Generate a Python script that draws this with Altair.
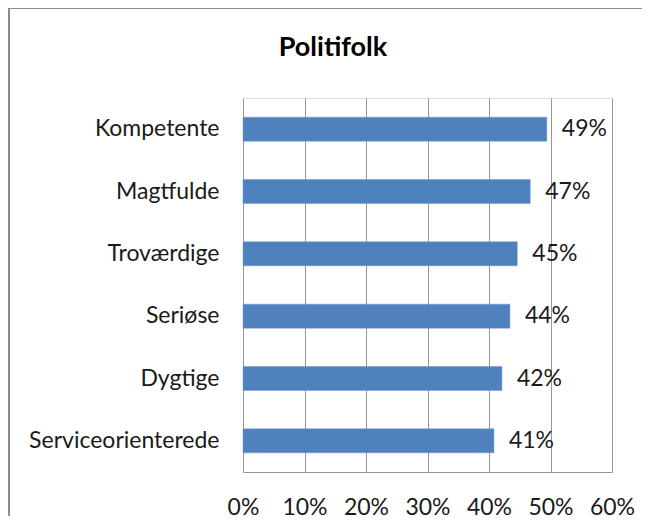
import altair as alt
import pandas as pd

categories = ["Kompetente", "Magtfulde", "Troværdige", "Seriøse", "Dygtige", "Serviceorienterede"]
values = [0.494, 0.467, 0.446, 0.434, 0.421, 0.408]
labels = ["49%", "47%", "45%", "44%", "42%", "41%"]
x_ticks = [0, 0.1, 0.2, 0.3, 0.4, 0.5, 0.6]
title_text = ["Politifolk"]

df = pd.DataFrame({"cat": categories, "val": values, "lab": labels})
title_df = pd.DataFrame({"t": title_text})

FONT = "Lato"
FS = 23

y_enc = alt.Y("cat:N", sort=categories, title=None,
              scale=alt.Scale(paddingInner=0.615, paddingOuter=0.3075),
              axis=alt.Axis(labelFont=FONT, labelFontSize=FS, labelColor="#1a1a1a",
                            labelPadding=24, labelLimit=400, ticks=False, domain=False,
                            grid=False))

x_enc = alt.X("val:Q", title=None,
              scale=alt.Scale(domain=[0, 0.6], nice=False),
              axis=alt.Axis(values=x_ticks, format=".0%", labelFont=FONT, labelFontSize=FS,
                            labelColor="#1a1a1a", labelPadding=24, ticks=False,
                            domainColor="#969696", gridColor="#969696", gridWidth=1,
                            labelFlush=False))

bars = alt.Chart(df).mark_bar(color="#4f81bd", stroke="#6f9bd1", strokeWidth=0.5).encode(
    x=x_enc, y=y_enc)

text = alt.Chart(df).mark_text(align="left", baseline="middle", dx=15, font=FONT,
                               fontSize=FS, color="#1a1a1a").encode(
    x="val:Q", y=alt.Y("cat:N", sort=categories), text="lab:N")

title = alt.Chart(title_df).mark_text(align="center", baseline="middle", font=FONT,
                                      fontSize=27, fontWeight="bold", color="#000000",
                                      clip=False).encode(
    x=alt.value(90), y=alt.value(-50), text="t:N")

frame_top = alt.Chart(title_df).mark_rule(stroke="#8c8c8c", strokeWidth=2, clip=False).encode(
    x=alt.value(-234), x2=alt.value(410), y=alt.value(-90))
frame_left = alt.Chart(title_df).mark_rule(stroke="#8c8c8c", strokeWidth=2, clip=False).encode(
    x=alt.value(-234), y=alt.value(-90), y2=alt.value(430))

chart = alt.layer(frame_top, frame_left, bars, text, title).properties(
    width=369, height=374,
    autosize=alt.AutoSizeParams(type="none"),
    padding={"left": 235, "top": 90, "right": 30, "bottom": 44},
).configure_view(stroke=None).configure(background="white")

chart.save("out.html", embed_options={"renderer": "svg", "actions": False})
